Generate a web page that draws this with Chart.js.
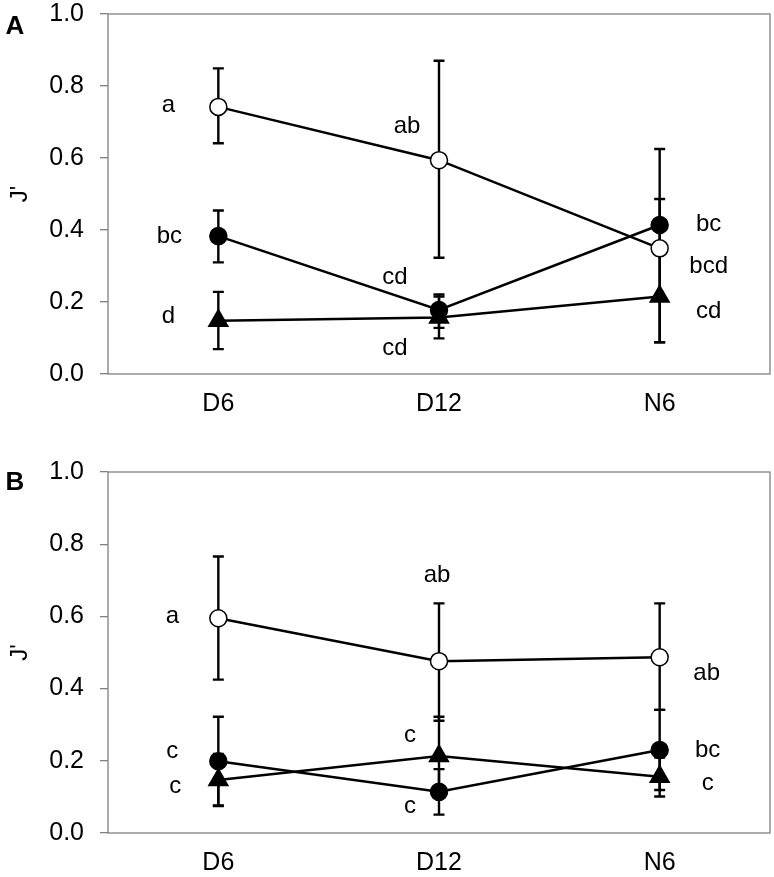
<!DOCTYPE html>
<html>
<head>
<meta charset="utf-8">
<script src="https://cdn.jsdelivr.net/npm/chart.js@4.4.1/dist/chart.umd.min.js"></script>
<style>
    html, body { margin: 0; padding: 0; background: #fff; }
    #wrap { position: relative; width: 774px; height: 877px; }
    .panel { position: absolute; left: 0; width: 774px; }
    #panel-a { top: 0; height: 458px; }
    #panel-b { top: 458px; height: 419px; }
</style>
</head>
<body>
<div id="wrap">
    <div class="panel" id="panel-a"><canvas id="chart-a"></canvas></div>
    <div class="panel" id="panel-b"><canvas id="chart-b"></canvas></div>
</div>
<script>
const categories = ['D6', 'D12', 'N6'];
const yTitle = "J'";

// panel A : means, upper and lower ends of the error bars
const openA = [0.742, 0.594, 0.349];
const openAHi = [0.849, 0.870, 0.625];
const openALo = [0.641, 0.323, 0.088];
const filledA = [0.383, 0.178, 0.414];
const filledAHi = [0.454, 0.221, 0.486];
const filledALo = [0.310, 0.128, 0.346];
const triA = [0.148, 0.157, 0.215];
const triAHi = [0.228, 0.215, 0.342];
const triALo = [0.069, 0.099, 0.088];
const openALetters = ['a', 'ab', 'bcd'];
const filledALetters = ['bc', 'cd', 'bc'];
const triALetters = ['d', 'cd', 'cd'];

// panel B
const openB = [0.595, 0.476, 0.487];
const openBHi = [0.766, 0.636, 0.636];
const openBLo = [0.425, 0.311, 0.341];
const filledB = [0.199, 0.114, 0.230];
const filledBHi = [0.322, 0.177, 0.341];
const filledBLo = [0.076, 0.051, 0.119];
const triB = [0.147, 0.213, 0.156];
const triBHi = [0.219, 0.322, 0.209];
const triBLo = [0.075, 0.108, 0.101];
const openBLetters = ['a', 'ab', 'ab'];
const filledBLetters = ['c', 'c', 'bc'];
const triBLetters = ['c', 'c', 'c'];

const FONT = "'Liberation Sans', Arial, sans-serif";

// where each significance letter sits relative to its marker (px)
const letterOffsetsA = {
    open: [[-50, -2], [-32, -34], [49, 18]],
    filled: [[-49, 0], [-44, -33], [49, -1]],
    tri: [[-50, -4], [-44, 31], [49, 15]]
};
const letterOffsetsB = {
    open: [[-46, -2], [-2, -86], [47, 16]],
    filled: [[-46, -10], [-29, 15], [48, 0]],
    tri: [[-43, 6], [-29, -21], [48, 7]]
};

const frame = {
    id: 'frame',
    beforeDatasetsDraw(chart) {
        const {ctx, chartArea} = chart;
        ctx.save();
        ctx.strokeStyle = '#808080';
        ctx.lineWidth = 1.3;
        ctx.strokeRect(chartArea.left, chartArea.top, chartArea.right - chartArea.left, chartArea.bottom - chartArea.top);
        ctx.restore();
    }
};

const errorBars = {
    id: 'errorBars',
    beforeDatasetsDraw(chart) {
        const ctx = chart.ctx;
        const xScale = chart.scales.x;
        const yScale = chart.scales.y;
        ctx.save();
        ctx.strokeStyle = '#000';
        ctx.lineWidth = 2.4;
        chart.data.datasets.forEach(ds => {
            ds.errHi.forEach((hi, i) => {
                const px = xScale.getPixelForValue(i);
                const top = yScale.getPixelForValue(hi);
                const bot = yScale.getPixelForValue(ds.errLo[i]);
                ctx.beginPath();
                ctx.moveTo(px, top);
                ctx.lineTo(px, bot);
                ctx.moveTo(px - 5.5, top);
                ctx.lineTo(px + 5.5, top);
                ctx.moveTo(px - 5.5, bot);
                ctx.lineTo(px + 5.5, bot);
                ctx.stroke();
            });
        });
        ctx.restore();
    }
};

const letters = {
    id: 'letters',
    afterDatasetsDraw(chart) {
        const ctx = chart.ctx;
        ctx.save();
        ctx.fillStyle = '#000';
        ctx.font = '24px ' + FONT;
        ctx.textAlign = 'center';
        ctx.textBaseline = 'middle';
        chart.data.datasets.forEach((ds, di) => {
            const meta = chart.getDatasetMeta(di);
            ds.letters.forEach((txt, i) => {
                const pt = meta.data[i];
                const off = ds.letterOffsets[i];
                ctx.fillText(txt, pt.x + off[0], pt.y + off[1]);
            });
        });
        ctx.restore();
    }
};

const panelLetter = {
    id: 'panelLetter',
    afterDraw(chart, args, opts) {
        const ctx = chart.ctx;
        ctx.save();
        ctx.fillStyle = '#000';
        ctx.font = 'bold 26px ' + FONT;
        ctx.textAlign = 'center';
        ctx.textBaseline = 'middle';
        ctx.fillText(opts.text, 15, opts.y);
        ctx.restore();
    }
};

function series(values, hi, lo, lettersTxt, offsets, style) {
    return Object.assign({
        data: values,
        errHi: hi,
        errLo: lo,
        letters: lettersTxt,
        letterOffsets: offsets,
        borderColor: '#000',
        borderWidth: 2.5,
        pointBorderColor: '#000',
        pointBorderWidth: 1.5,
        tension: 0,
        clip: false
    }, style);
}

const openStyle = {pointStyle: 'circle', pointRadius: 8.5, pointBackgroundColor: '#fff', order: 0};
const filledStyle = {pointStyle: 'circle', pointRadius: 8.5, pointBackgroundColor: '#000', order: 1};
const triStyle = {pointStyle: 'triangle', pointRadius: 11, pointBackgroundColor: '#000', order: 2};

function makePanel(canvasId, letter, letterY, datasets, xHeight) {
    return new Chart(document.getElementById(canvasId), {
        type: 'line',
        data: {labels: categories, datasets: datasets},
        options: {
            responsive: true,
            maintainAspectRatio: false,
            animation: false,
            layout: {autoPadding: false, padding: {left: 0, right: 4, top: 14, bottom: 0}},
            plugins: {
                legend: {display: false},
                tooltip: {enabled: false},
                panelLetter: {text: letter, y: letterY}
            },
            scales: {
                x: {
                    type: 'category',
                    offset: true,
                    grid: {display: false, drawTicks: false},
                    border: {display: false},
                    ticks: {color: '#000', font: {size: 25, family: FONT}, padding: 15},
                    afterFit: s => {
                        s.height = xHeight;
                        s.paddingLeft = 0;
                        s.paddingRight = 0;
                    }
                },
                y: {
                    min: 0,
                    max: 1,
                    grid: {drawOnChartArea: false, drawTicks: true, tickLength: 8, color: '#808080', lineWidth: 1.3},
                    border: {display: false},
                    ticks: {
                        stepSize: 0.2,
                        color: '#000',
                        font: {size: 25, family: FONT},
                        padding: 16,
                        callback: v => v.toFixed(1)
                    },
                    title: {display: true, text: yTitle, color: '#000', font: {size: 24, family: FONT}, padding: {top: 6, bottom: 0}},
                    afterFit: s => {
                        s.width = 108;
                        s.paddingTop = 0;
                        s.paddingBottom = 0;
                    }
                }
            }
        },
        plugins: [frame, errorBars, letters, panelLetter]
    });
}

makePanel('chart-a', 'A', 27, [
    series(openA, openAHi, openALo, openALetters, letterOffsetsA.open, openStyle),
    series(filledA, filledAHi, filledALo, filledALetters, letterOffsetsA.filled, filledStyle),
    series(triA, triAHi, triALo, triALetters, letterOffsetsA.tri, triStyle)
], 84);

makePanel('chart-b', 'B', 25, [
    series(openB, openBHi, openBLo, openBLetters, letterOffsetsB.open, openStyle),
    series(filledB, filledBHi, filledBLo, filledBLetters, letterOffsetsB.filled, filledStyle),
    series(triB, triBHi, triBLo, triBLetters, letterOffsetsB.tri, triStyle)
], 44);
</script>
</body>
</html>
